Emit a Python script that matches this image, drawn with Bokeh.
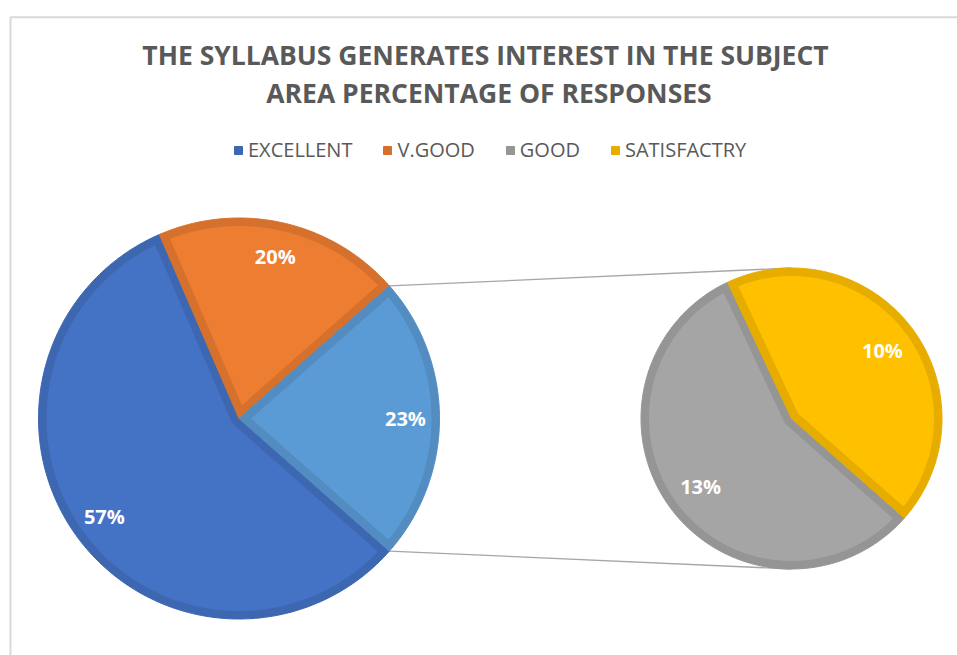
import numpy as np
from bokeh.plotting import figure
from bokeh.models import Range1d, Legend, LegendItem
from bokeh.core.properties import value
from bokeh.embed import file_html
from bokeh.resources import INLINE

# ---------------- data ----------------
title_lines = ["THE SYLLABUS GENERATES INTEREST IN THE SUBJECT",
               "AREA PERCENTAGE OF RESPONSES"]
categories = ["EXCELLENT", "V.GOOD", "GOOD", "SATISFACTRY"]
values = [57, 20, 13, 10]          # percentage of responses
n_main = 2                          # first two in main pie, rest split out

main_fill = ["#4472C4", "#ED7D31", "#5B9BD5"]
main_edge = ["#3D67B0", "#D5712C", "#528CC0"]
sub_fill = ["#A5A5A5", "#FFC000"]
sub_edge = ["#959595", "#E6AD00"]

# ---------------- layout (pixel-like data space) ----------------
W, H = 957, 655
C1 = (238.5, 237.0); R1 = 200.5
C2 = (791.0, 237.0); R2 = 150.5
INSET = 8.0

main_vals = values[:n_main] + [sum(values[n_main:])]
sub_vals = values[n_main:]
total = float(sum(values))
other_frac = main_vals[-1] / total
start = -other_frac * np.pi + 2 * np.pi     # slices run clockwise from here


def spans(vals, tot):
    out, cum = [], 0.0
    for v in vals:
        a1 = start - cum / tot * 2 * np.pi
        cum += v
        a0 = start - cum / tot * 2 * np.pi
        out.append((a0, a1))
    return out


def sector(c, r, a0, a1, n=160):
    t = np.linspace(a0, a1, n)
    xs = np.concatenate([[c[0]], c[0] + r * np.cos(t)])
    ys = np.concatenate([[c[1]], c[1] + r * np.sin(t)])
    return list(xs), list(ys)


def inset_sector(c, r, a0, a1, d, n=160):
    span = a1 - a0
    rho = r - d
    dl = np.arcsin(d / rho)
    t = np.linspace(a0 + dl, a1 - dl, n)
    ax = c[0] + rho * np.cos(t)
    ay = c[1] + rho * np.sin(t)
    if span < np.pi:
        h = span / 2
        k = d / np.sin(h)
        vx = np.array([c[0] + k * np.cos(a0 + h)])
        vy = np.array([c[1] + k * np.sin(a0 + h)])
        xs = np.concatenate([vx, ax]); ys = np.concatenate([vy, ay])
    else:
        s = np.linspace(a1 - np.pi / 2, a0 + np.pi / 2, 40)
        xs = np.concatenate([ax, c[0] + d * np.cos(s)])
        ys = np.concatenate([ay, c[1] + d * np.sin(s)])
    return list(xs), list(ys)


main_sp = spans(main_vals, total)
sub_sp = spans(sub_vals, float(sum(sub_vals)))

p = figure(width=W, height=H, output_backend="svg", toolbar_location=None,
           x_range=Range1d(0, W), y_range=Range1d(0, H), min_border=0,
           outline_line_color=None, background_fill_color="white")
p.axis.visible = False
p.grid.visible = False

# chart frame (top and left edges visible in the reference)
p.quad(left=[10], right=[W + 40], top=[638.3], bottom=[-40], fill_color=None,
       line_color="#D9D9D9", line_width=2)

# connector lines from the split slice to the secondary pie
a_top = main_sp[-1][1]
a_bot = main_sp[-1][0]
p.segment(x0=[C1[0] + R1 * np.cos(a_top), C1[0] + R1 * np.cos(a_bot)],
          y0=[C1[1] + R1 * np.sin(a_top), C1[1] + R1 * np.sin(a_bot)],
          x1=[C2[0], C2[0]], y1=[C2[1] + R2, C2[1] - R2],
          line_color="#A6A6A6", line_width=1.3)

# main pie
mo = [sector(C1, R1, a0, a1) for a0, a1 in main_sp]
mi = [inset_sector(C1, R1, a0, a1, INSET) for a0, a1 in main_sp]
main_outer = p.patches(xs=[o[0] for o in mo], ys=[o[1] for o in mo],
                       fill_color=main_edge, line_color=main_edge, line_width=1)
p.patches(xs=[o[0] for o in mi], ys=[o[1] for o in mi],
          fill_color=main_fill, line_color=None)

# secondary pie
so = [sector(C2, R2, a0, a1) for a0, a1 in sub_sp]
si = [inset_sector(C2, R2, a0, a1, INSET) for a0, a1 in sub_sp]
sub_outer = p.patches(xs=[o[0] for o in so], ys=[o[1] for o in so],
                      fill_color=sub_edge, line_color=sub_edge, line_width=1)
p.patches(xs=[o[0] for o in si], ys=[o[1] for o in si],
          fill_color=sub_fill, line_color=None)

# data labels
lx, ly, lt = [], [], []
for (a0, a1), v in zip(main_sp, main_vals):
    m = (a0 + a1) / 2
    lx.append(C1[0] + 0.83 * R1 * np.cos(m)); ly.append(C1[1] + 0.83 * R1 * np.sin(m))
    lt.append(f"{v:.0f}%")
for (a0, a1), v in zip(sub_sp, sub_vals):
    m = (a0 + a1) / 2
    lx.append(C2[0] + 0.755 * R2 * np.cos(m)); ly.append(C2[1] + 0.755 * R2 * np.sin(m))
    lt.append(f"{v:.0f}%")
p.text(x=lx, y=ly, text=lt, text_align="center", text_baseline="middle",
       text_color="white", text_font=value("Open Sans"), text_font_style="bold",
       text_font_size="20px")

# title
p.text(x=[485, 488.5], y=[600.5, 563], text=title_lines, text_align="center",
       text_baseline="alphabetic", text_color="#595959",
       text_font=value("Open Sans"), text_font_style="bold", text_font_size="26.5px")

# legend
items = [LegendItem(label=categories[0], renderers=[main_outer], index=0),
         LegendItem(label=categories[1], renderers=[main_outer], index=1),
         LegendItem(label=categories[2], renderers=[sub_outer], index=0),
         LegendItem(label=categories[3], renderers=[sub_outer], index=1)]
legend = Legend(items=items, orientation="horizontal", location=(233, 492),
                glyph_width=10, glyph_height=10, label_standoff=5, spacing=30,
                padding=0, margin=0, border_line_color=None,
                background_fill_alpha=0, label_text_font="Open Sans",
                label_text_font_size="20px", label_text_color="#595959")
p.add_layout(legend)

open("out.html", "w").write(file_html(p, INLINE))
